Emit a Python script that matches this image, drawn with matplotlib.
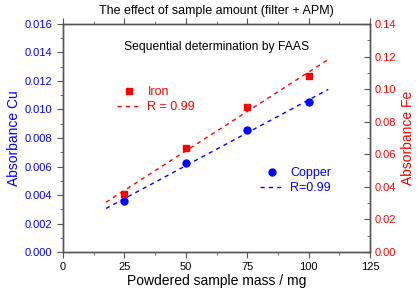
import numpy as np
import matplotlib
matplotlib.use('Agg')
import matplotlib.pyplot as plt
from matplotlib.ticker import MultipleLocator

plt.rcParams['font.family'] = ['Liberation Sans', 'DejaVu Sans']

mass = [25, 50, 75, 100]
copper = [0.00358, 0.00622, 0.00854, 0.0105]
iron = [0.0356, 0.064, 0.089, 0.108]
fit_x = np.array([17.5, 108])

fig = plt.figure(figsize=(4.2, 2.89), dpi=100)
ax = fig.add_axes([0.150, 0.128, 0.731, 0.789])
ax2 = ax.twinx()

# fit lines
pc = np.polyfit(mass, copper, 1)
pf = np.polyfit(mass, iron, 1)
lc, = ax.plot(fit_x, np.polyval(pc, fit_x), '--', color='blue', lw=1, dashes=(3, 3))
lf, = ax2.plot(fit_x, np.polyval(pf, fit_x), '--', color='red', lw=1, dashes=(3, 3))
pcu, = ax.plot(mass, copper, 'o', color='blue', ms=5, ls='none')
pfe, = ax2.plot(mass, iron, 's', color='red', ms=4.8, ls='none')

ax.set_xlim(0, 125)
ax.set_ylim(0, 0.016)
ax2.set_ylim(0, 0.14)
ax.xaxis.set_major_locator(MultipleLocator(25))
ax.xaxis.set_minor_locator(MultipleLocator(12.5))
ax.yaxis.set_major_locator(MultipleLocator(0.002))
ax.yaxis.set_minor_locator(MultipleLocator(0.001))
ax2.yaxis.set_major_locator(MultipleLocator(0.02))
ax2.yaxis.set_minor_locator(MultipleLocator(0.01))
ax.yaxis.set_major_formatter(lambda v, p: '%.3f' % v)
ax2.yaxis.set_major_formatter(lambda v, p: '%.2f' % v)

ax.tick_params(axis='x', which='both', direction='out', top=True, labelsize=8)
ax.tick_params(axis='x', which='major', length=4)
ax.tick_params(axis='x', which='minor', length=2)
ax.tick_params(axis='y', which='major', length=4, labelsize=8, labelcolor='blue')
ax.tick_params(axis='y', which='minor', length=2)
ax2.tick_params(axis='y', which='major', direction='in', length=4, labelsize=8, labelcolor='red')
ax2.tick_params(axis='y', which='minor', direction='in', length=2)
for a in (ax, ax2):
    for s in a.spines.values():
        s.set_color('#555555')
        s.set_linewidth(1)
    a.tick_params(which='both', color='#555555')

ax.set_xlabel('Powdered sample mass / mg', fontsize=10, labelpad=1)
ax.set_ylabel('Absorbance Cu', fontsize=10, color='blue', labelpad=3)
ax2.set_ylabel('Absorbance Fe', fontsize=10, color='red', labelpad=3)
ax.set_title('The effect of sample amount (filter + APM)', fontsize=9, pad=7)
ax.text(0.5, 0.9, 'Sequential determination by FAAS', transform=ax.transAxes,
        ha='center', va='center', fontsize=8.7)

leg_kw = dict(loc='upper left', frameon=False, fontsize=9, handlelength=2,
              borderpad=0, labelspacing=0.25, handletextpad=0.45)
leg1 = ax2.legend([pfe, lf], ['Iron', 'R = 0.99'], bbox_to_anchor=(0.155, 0.755),
                  labelcolor='red', **leg_kw)
ax2.add_artist(leg1)
ax2.legend([pcu, lc], ['Copper', 'R=0.99'], bbox_to_anchor=(0.62, 0.4),
           labelcolor='blue', **leg_kw)

fig.savefig('out.png', dpi=100)
